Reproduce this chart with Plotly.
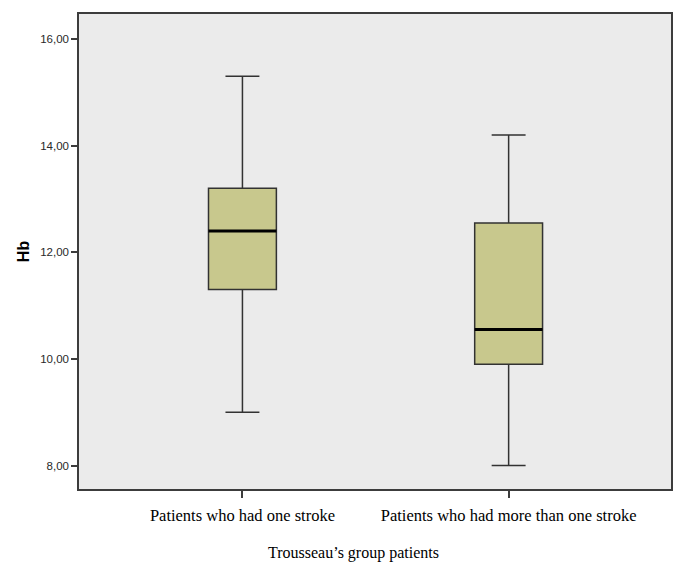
import plotly.graph_objects as go

categories = ["Patients who had one stroke", "Patients who had more than one stroke"]
lower_whisker = [9.0, 8.0]
q1 = [11.3, 9.9]
median = [12.4, 10.55]
q3 = [13.2, 12.55]
upper_whisker = [15.3, 14.2]
y_tick_vals = [8, 10, 12, 14, 16]
y_tick_text = ["8,00", "10,00", "12,00", "14,00", "16,00"]

fig = go.Figure()
fig.add_trace(go.Box(
    x=categories, q1=q1, median=median, q3=q3,
    lowerfence=lower_whisker, upperfence=upper_whisker,
    boxpoints=False, width=0.255, whiskerwidth=0.5,
    fillcolor="rgb(200,200,141)",
    line=dict(color="rgb(50,50,50)", width=1.5),
    hoverinfo="skip", showlegend=False,
))
# thicker median line
fig.add_trace(go.Box(
    x=categories, q1=median, median=median, q3=median,
    lowerfence=median, upperfence=median,
    boxpoints=False, width=0.255, whiskerwidth=0,
    fillcolor="rgba(0,0,0,0)",
    line=dict(color="black", width=3),
    hoverinfo="skip", showlegend=False,
))

fig.update_layout(
    width=676, height=564,
    margin=dict(l=79, r=3, t=14, b=75),
    paper_bgcolor="white",
    plot_bgcolor="rgb(235,235,235)",
    boxmode="overlay",
    showlegend=False,
    xaxis=dict(
        type="category", range=[-0.614, 1.61],
        showline=True, mirror=True, linecolor="rgb(60,60,60)", linewidth=1.5,
        ticks="outside", ticklen=7, tickcolor="rgb(60,60,60)", tickwidth=1.5,
        showgrid=False, zeroline=False, ticklabelstandoff=3,
        tickfont=dict(family="Liberation Serif", size=16.5, color="black"),
    ),
    yaxis=dict(
        range=[7.56, 16.47],
        tickvals=y_tick_vals, ticktext=y_tick_text,
        showline=True, mirror=True, linecolor="rgb(60,60,60)", linewidth=1.5,
        ticks="outside", ticklen=6, tickcolor="rgb(60,60,60)", tickwidth=1.5,
        showgrid=False, zeroline=False,
        tickfont=dict(family="Liberation Sans", size=11.5, color="rgb(40,40,40)"),
        title=dict(text="<b>Hb</b>", font=dict(family="Liberation Sans", size=16, color="black"), standoff=7),
    ),
    annotations=[dict(
        text="Trousseau’s group patients", xref="paper", yref="paper",
        x=(354 - 79) / (673 - 79), y=-(553 - 489) / (489 - 14),
        xanchor="center", yanchor="middle", showarrow=False,
        font=dict(family="Liberation Serif", size=16, color="black"),
    )],
)

fig.write_html(
    "out.html",
    config={"displayModeBar": False},
    post_script="document.body.style.margin='0';document.body.style.overflow='hidden';",
)
